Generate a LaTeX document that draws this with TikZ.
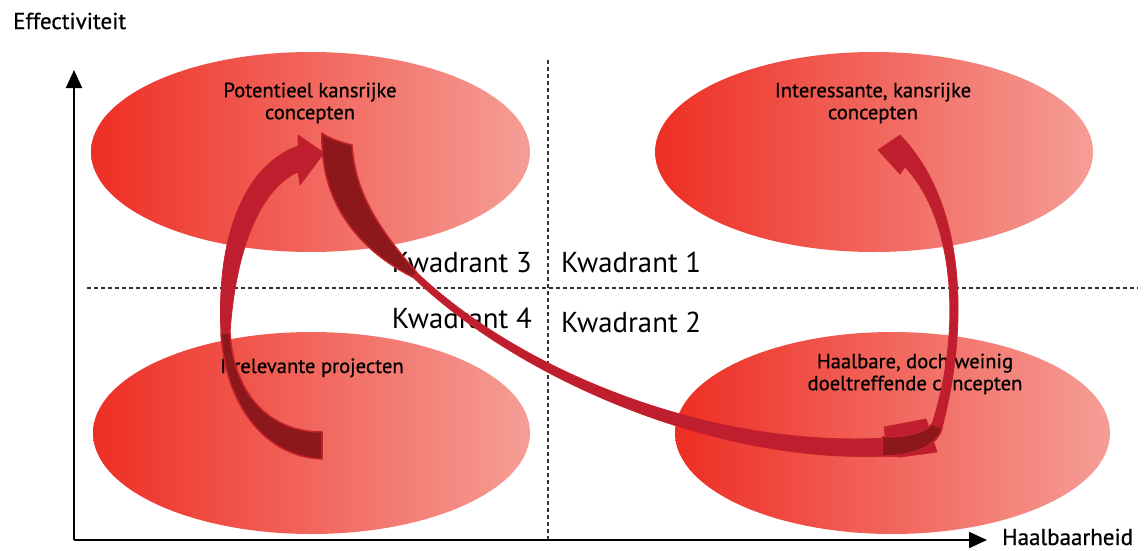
\documentclass[tikz,border=0pt]{standalone}
\usepackage{fontspec}
\setmainfont{PT Sans}
\newfontfamily\medfont{PT Sans}[FakeBold=0.6]
\usetikzlibrary{arrows.meta}
\definecolor{ellL}{RGB}{238,46,36}
\definecolor{ellR}{RGB}{245,158,150}
\definecolor{arrFront}{RGB}{190,30,45}
\definecolor{arrBack}{RGB}{140,24,28}
\definecolor{arrEdge}{RGB}{198,34,44}
\begin{document}
\begin{tikzpicture}[x=1pt,y=-1pt,
  blob/.style={left color=ellL,right color=ellR},
  gridline/.style={dash pattern=on 4pt off 3pt,line width=1.1pt,black!80},
  axisline/.style={line width=2pt,-{Triangle[length=18pt,width=16pt]}},
  arrowfront/.style={fill=arrFront,draw=arrEdge,line width=0.8pt,line join=round},
  arrowback/.style={fill=arrBack,draw=arrEdge,line width=1.5pt,line join=round},
  axislabel/.style={font=\medfont\fontsize{23}{26}\selectfont},
  quadlabel/.style={font=\fontsize{28.8}{32}\selectfont},
  blobtext/.style={font=\medfont\fontsize{20.6}{22}\selectfont,align=center}]
\useasboundingbox (0,0) rectangle (1148,550);

% quadrant clouds
\shade[blob] (310.5,152) ellipse [x radius=219.5,y radius=100];
\shade[blob] (874,152) ellipse [x radius=219,y radius=100];
\shade[blob] (311.5,433) ellipse [x radius=218.5,y radius=101];
\shade[blob] (892.5,433) ellipse [x radius=217.5,y radius=101];

% quadrant separators
\draw[gridline] (548,60) -- (548,540);
\draw[gridline] (87,288) -- (1138,288);

% axes
\coordinate (origin) at (74,540);
\coordinate (ytop) at (74,70);
\coordinate (xend) at (987,540);
\draw[axisline] (origin) -- (ytop);
\draw[axisline] (origin) -- (xend);
\node[axislabel,anchor=base west,inner sep=0pt] (ylab) at (13,29) {Effectiviteit};
\node[axislabel,anchor=base west,inner sep=0pt] (xlab) at (1002,545) {Haalbaarheid};

% quadrant names
\node[quadlabel,anchor=base east,inner sep=0pt] (q3) at (532,272) {Kwadrant 3};
\node[quadlabel,anchor=base west,inner sep=0pt] (q1) at (561,272) {Kwadrant 1};
\node[quadlabel,anchor=base east,inner sep=0pt] (q4) at (532,328) {Kwadrant 4};
\node[quadlabel,anchor=base west,inner sep=0pt] (q2) at (561,332) {Kwadrant 2};

% cloud captions
\node[blobtext] (tl) at (310,103) {Potentieel kansrijke\\concepten};
\node[blobtext] (tr) at (873,103) {Interessante, kansrijke\\concepten};
\node[blobtext,anchor=base] (bl) at (312,373) {Irrelevante projecten};
\node[blobtext] (br) at (915,374) {Haalbare, doch weinig\\doeltreffende concepten};

% arrow from Kwadrant 4 up to Kwadrant 3
\path[arrowback] (322,459) .. controls (265,457) and (225,405) .. (221,333)
  -- (230,333) .. controls (234,395) and (270,432) .. (322,432) -- cycle;
\path[arrowfront] (221,333) .. controls (216,235) and (245,165) .. (298,146)
  -- (298,135) -- (324,153) -- (300,185) -- (298,172)
  .. controls (262,188) and (236,245) .. (230,333) -- cycle;

% long arrow from Kwadrant 3 down to Kwadrant 2 (front face and head)
\path[arrowfront] (417,272.7) .. controls (522.4,373) and (713.1,448) .. (885.5,438)
  -- (884,427) -- (926,419) -- (937,452) -- (900,457)
  -- (886.5,456) .. controls (713.9,464) and (517.6,378) .. (412.7,277.1) -- cycle;

% arrow from Kwadrant 2 up to Kwadrant 1
\path[arrowfront] (942,428) .. controls (968,330) and (968,205) .. (900,135)
  -- (878,150) -- (900,174) -- (905,167)
  .. controls (955,220) and (962,330) .. (932,424) -- cycle;
\path[arrowback] (882,437) .. controls (905,437) and (925,433) .. (932,424)
  -- (942,428) .. controls (938,445) and (915,456) .. (882,456) -- cycle;

% twisted tail of the long arrow
\path[arrowback] (322,133) .. controls (320,195) and (350,245) .. (412.7,277.1)
  -- (417,272.7) .. controls (375,225) and (355,190) .. (352,145)
  .. controls (340,142) and (328,138) .. (322,133) -- cycle;
\end{tikzpicture}
\end{document}
